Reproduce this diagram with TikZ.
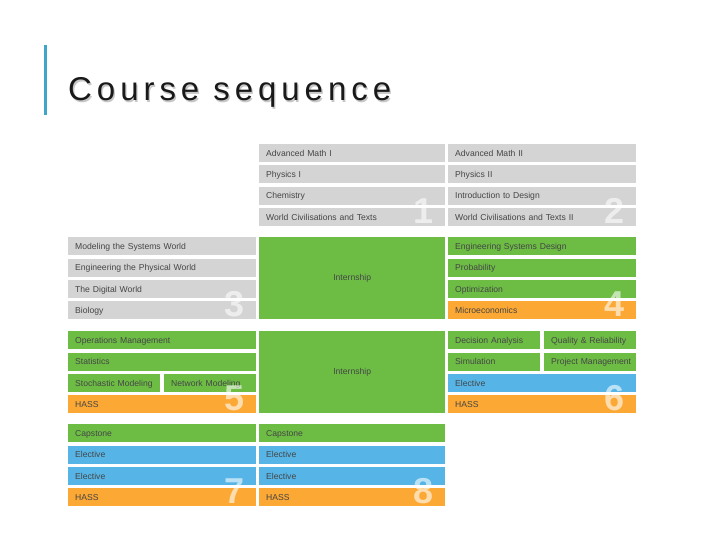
\documentclass[tikz,border=0pt]{standalone}
\usepackage{fontspec}
\setmainfont{Liberation Sans}
\newfontfamily\titlefont[LetterSpace=15]{Liberation Sans}
\definecolor{cgray}{HTML}{D4D4D4}
\definecolor{cgreen}{HTML}{6DBD45}
\definecolor{cblue}{HTML}{56B5E6}
\definecolor{corange}{HTML}{FCA834}
\definecolor{txt}{HTML}{454545}
\definecolor{barblue}{HTML}{3FA6C9}
\tikzset{
  cell/.style={anchor=north west, minimum height=18pt, inner xsep=7pt, inner ysep=0pt,
    align=left, font=\fontsize{8.6}{10}\selectfont, text=txt, text height=6.2pt, text depth=0pt},
  bigblock/.style={anchor=north west, minimum width=186pt, minimum height=82pt, inner sep=0pt,
    fill=cgreen, font=\fontsize{8.6}{10}\selectfont, text=txt},
  secnum/.style={anchor=base east, inner sep=0pt, text=white, text opacity=0.6,
    font=\fontsize{36}{36}\selectfont\bfseries},
}
\newcommand\cellbox[6]{\node[cell,fill=#5,text width=#4] (#1) at (#2,#3) {\hbox{#6}};}
\begin{document}
\begin{tikzpicture}[x=1pt,y=-1pt]
\useasboundingbox (0,0) rectangle (720,540);
% title
\fill[barblue] (43.5,45) rectangle (46.5,115);
\node[anchor=base west, inner sep=0pt, text=black!22, font=\titlefont\fontsize{33}{33}\selectfont] (titleshadow) at (69.3,102.3) {Course sequence};
\node[anchor=base west, inner sep=0pt, text=black!90, font=\titlefont\fontsize{33}{33}\selectfont] (title) at (68,101) {Course sequence};
% section 1
\cellbox{b11}{259}{144}{172pt}{cgray}{Advanced Math I}
\cellbox{b12}{259}{165.3}{172pt}{cgray}{Physics I}
\cellbox{b13}{259}{186.7}{172pt}{cgray}{Chemistry}
\cellbox{b14}{259}{208}{172pt}{cgray}{World Civilisations and Texts}
\cellbox{c11}{448}{144}{174pt}{cgray}{Advanced Math II}
\cellbox{c12}{448}{165.3}{174pt}{cgray}{Physics II}
\cellbox{c13}{448}{186.7}{174pt}{cgray}{Introduction to Design}
\cellbox{c14}{448}{208}{174pt}{cgray}{World Civilisations and Texts II}
% section 2
\cellbox{a21}{68}{237}{174pt}{cgray}{Modeling the Systems World}
\cellbox{a22}{68}{258.3}{174pt}{cgray}{Engineering the Physical World}
\cellbox{a23}{68}{279.7}{174pt}{cgray}{The Digital World}
\cellbox{a24}{68}{301}{174pt}{cgray}{Biology}
\node[bigblock] (intern1) at (259,237) {Internship};
\cellbox{c21}{448}{237}{174pt}{cgreen}{Engineering Systems Design}
\cellbox{c22}{448}{258.3}{174pt}{cgreen}{Probability}
\cellbox{c23}{448}{279.7}{174pt}{cgreen}{Optimization}
\cellbox{c24}{448}{301}{174pt}{corange}{Microeconomics}
% section 3
\cellbox{a31}{68}{331}{174pt}{cgreen}{Operations Management}
\cellbox{a32}{68}{352.3}{174pt}{cgreen}{Statistics}
\cellbox{a33}{68}{373.7}{78pt}{cgreen}{Stochastic Modeling}
\cellbox{a33b}{164}{373.7}{78pt}{cgreen}{Network Modeling}
\cellbox{a34}{68}{395}{174pt}{corange}{HASS}
\node[bigblock] (intern2) at (259,331) {Internship};
\cellbox{c31}{448}{331}{78pt}{cgreen}{Decision Analysis}
\cellbox{c31b}{544}{331}{78pt}{cgreen}{Quality \& Reliability}
\cellbox{c32}{448}{352.3}{78pt}{cgreen}{Simulation}
\cellbox{c32b}{544}{352.3}{78pt}{cgreen}{Project Management}
\cellbox{c33}{448}{373.7}{174pt}{cblue}{Elective}
\cellbox{c34}{448}{395}{174pt}{corange}{HASS}
% section 4
\cellbox{a41}{68}{424}{174pt}{cgreen}{Capstone}
\cellbox{a42}{68}{445.3}{174pt}{cblue}{Elective}
\cellbox{a43}{68}{466.7}{174pt}{cblue}{Elective}
\cellbox{a44}{68}{488}{174pt}{corange}{HASS}
\cellbox{b41}{259}{424}{172pt}{cgreen}{Capstone}
\cellbox{b42}{259}{445.3}{172pt}{cblue}{Elective}
\cellbox{b43}{259}{466.7}{172pt}{cblue}{Elective}
\cellbox{b44}{259}{488}{172pt}{corange}{HASS}
% semester numbers
\node[secnum] (n1) at (434,223) {1};
\node[secnum] (n2) at (625,223) {2};
\node[secnum] (n3) at (245,316) {3};
\node[secnum] (n4) at (625,316) {4};
\node[secnum] (n5) at (245,410) {5};
\node[secnum] (n6) at (625,410) {6};
\node[secnum] (n7) at (245,503) {7};
\node[secnum] (n8) at (434,503) {8};
\end{tikzpicture}
\end{document}
